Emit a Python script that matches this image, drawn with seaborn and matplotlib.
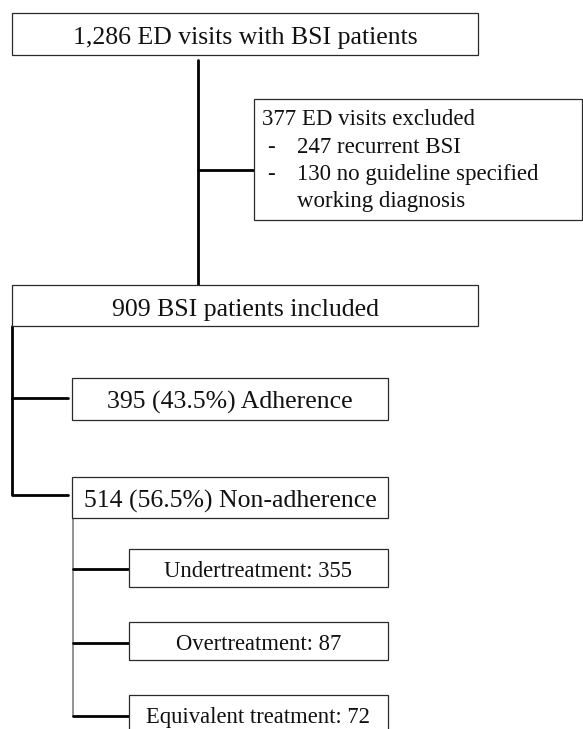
import matplotlib
matplotlib.use("Agg")
import matplotlib.pyplot as plt
from matplotlib.patches import Rectangle
import seaborn as sns
import pandas as pd

# ---- data ----
total_visits = 1286
excluded_total = 377
excluded_counts = [247, 130]
excluded_reasons = ["recurrent BSI", "no guideline specified", "working diagnosis"]
included = 909
adherence_labels = ["Adherence", "Non-adherence"]
adherence_counts = [395, 514]
adherence_pct = [43.5, 56.5]
nonadh_labels = ["Undertreatment", "Overtreatment", "Equivalent treatment"]
nonadh_counts = [355, 87, 72]

sns.set_theme(style="white")
plt.rcParams["font.family"] = ["Liberation Serif", "DejaVu Serif"]

W, H = 583, 729
fig = plt.figure(figsize=(W / 100, H / 100), dpi=100)
ax = fig.add_axes([0, 0, 1, 1])

BOX_EC = "#2a2a2a"
TXT = "#111111"
MAIN_FS = 18.5
SUB_FS = 16.3
EX_FS = 16.5


def box(x0, y0, x1, y1, text=None, fs=MAIN_FS, base_off=10, lw=0.9):
    ax.add_patch(Rectangle((x0, y0), x1 - x0, y1 - y0, facecolor="white",
                           edgecolor=BOX_EC, lw=lw, zorder=3))
    if text is not None:
        ax.text((x0 + x1) / 2, (y0 + y1) / 2 + base_off, text, ha="center",
                va="baseline", fontsize=fs, color=TXT, zorder=4)


def line(xs, ys, color="black", lw=2.0):
    df = pd.DataFrame({"x": xs, "y": ys})
    sns.lineplot(data=df, x="x", y="y", sort=False, estimator=None,
                 color=color, lw=lw, ax=ax, zorder=2)


# connectors
line([198, 198], [60, 285])
line([198, 254], [170, 170])
line([12, 12, 68], [326, 495, 495])
line([12, 68], [398, 398])
line([73, 73], [518, 716], color="#808080", lw=1.2)
for yc in [569, 643, 716]:
    line([73, 129], [yc, yc])

ax.set_xlim(0, W)
ax.set_ylim(H, 0)
ax.axis("off")

# boxes
box(12, 13, 478, 55, f"{total_visits:,} ED visits with BSI patients")
box(254, 99, 582, 220)
ax.text(262, 125, f"{excluded_total} ED visits excluded", ha="left",
        va="baseline", fontsize=EX_FS, color=TXT, zorder=4)
ex_y = [153, 180, 207]
ex_txt = [f"{excluded_counts[0]} {excluded_reasons[0]}",
          f"{excluded_counts[1]} {excluded_reasons[1]}",
          excluded_reasons[2]]
for i, (yy, tt) in enumerate(zip(ex_y, ex_txt)):
    if i < 2:
        ax.text(267, yy, "-", ha="left", va="baseline", fontsize=EX_FS,
                color=TXT, zorder=4)
    ax.text(297, yy, tt, ha="left", va="baseline", fontsize=EX_FS,
            color=TXT, zorder=4)

box(12, 285, 478, 326, f"{included} BSI patients included")
box(72, 378, 388, 420,
    f"{adherence_counts[0]} ({adherence_pct[0]}%) {adherence_labels[0]}")
box(72, 477, 388, 518,
    f"{adherence_counts[1]} ({adherence_pct[1]}%) {adherence_labels[1]}")

sub_y = [(549, 587), (622, 660), (695, 737)]
for (y0, y1), lab, c in zip(sub_y, nonadh_labels, nonadh_counts):
    if y1 > H:
        box(129, y0, 388, y1)
        ax.text(258.5, y0 + 28, f"{lab}: {c}", ha="center", va="baseline",
                fontsize=SUB_FS, color=TXT, zorder=4)
    else:
        box(129, y0, 388, y1, f"{lab}: {c}", fs=SUB_FS, base_off=9)

fig.savefig("out.png", dpi=100)
